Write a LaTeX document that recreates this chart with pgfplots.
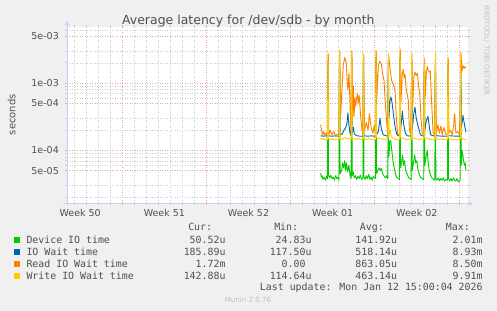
\documentclass[border=0pt]{standalone}
\usepackage{pgfplots}
\pgfplotsset{compat=1.18}
\usepackage{fontspec}
\setmainfont{DejaVu Sans}
\newfontfamily\monofont{DejaVu Sans Mono}
\usetikzlibrary{arrows.meta}
\definecolor{cgreen}{HTML}{00CC00}
\definecolor{cblue}{HTML}{0066B3}
\definecolor{corange}{HTML}{FF8000}
\definecolor{cyellow}{HTML}{FFCC00}
\definecolor{bg}{HTML}{F0F0F0}
\definecolor{gridred}{HTML}{EBA3A3}
\definecolor{gridgray}{HTML}{CCCCCC}
\definecolor{axisblue}{HTML}{C8D0F4}
\definecolor{txt}{HTML}{505050}
\definecolor{lightt}{HTML}{C0C0C0}
\begin{document}
\begin{tikzpicture}
\fill[bg] (0,0) rectangle (497bp,311bp);
\begin{axis}[
  at={(67bp,108bp)}, anchor=south west,
  scale only axis, width=401bp, height=176bp,
  xmin=2.4, xmax=35.76, ymode=log, ymin=1.65e-5, ymax=6.8e-3,
  axis line style={draw=none},
  axis background/.style={fill=white},
  xtick={7,14,21,28,35}, xticklabels={},
  minor xtick={3,4,5,6,8,9,10,11,12,13,15,16,17,18,19,20,22,23,24,25,26,27,29,30,31,32,33,34},
  extra x ticks={3.5,10.5,17.5,24.5,31.5},
  extra x tick labels={Week 50,Week 51,Week 52,Week 01,Week 02},
  extra x tick style={grid=none, major tick length=0pt},
  ytick={5e-5,1e-4,5e-4,1e-3,5e-3},
  yticklabels={5e-05,1e-04,5e-04,1e-03,5e-03},
  minor ytick={2e-5,3e-5,6e-5,7e-5,8e-5,9e-5,2e-4,3e-4,6e-4,7e-4,8e-4,9e-4,2e-3,3e-3,6e-3},
  grid=both,
  major grid style={color=gridred, line width=0.5bp, dash pattern=on 1bp off 1.5bp},
  minor grid style={color=gridgray, line width=0.5bp, dash pattern=on 1bp off 1.5bp},
  tick align=outside, major tick length=2bp, minor tick length=2bp,
  major tick style={color=gridred, line width=0.6bp},
  minor tick style={color=gridgray, line width=0.6bp},
  tick label style={font=\fontsize{9.5bp}{11bp}\selectfont, text=txt},
  yticklabel style={anchor=east, inner sep=0pt, xshift=-6bp},
  xticklabel style={anchor=north, inner sep=0pt, yshift=-6bp},
  every axis plot/.append style={no markers, line width=0.9bp, line join=round},
  clip=true,
]
\addplot[cgreen] coordinates {(23.50,4.6e-5)(23.56,4.0e-5)(23.62,4.2e-5)(23.70,3.7e-5)(23.80,4.0e-5)(23.90,3.6e-5)(24.00,4.1e-5)(24.07,3.8e-5)(24.11,1.8e-3)(24.16,4.2e-5)(24.25,3.9e-5)(24.35,4.3e-5)(24.45,3.8e-5)(24.55,4.0e-5)(24.65,3.6e-5)(24.75,4.2e-5)(24.85,3.8e-5)(24.95,4.0e-5)(25.03,3.6e-5)(25.07,1.9e-3)(25.12,4.5e-5)(25.25,5.0e-5)(25.33,6.5e-5)(25.42,5.5e-5)(25.50,7.0e-5)(25.58,5.0e-5)(25.65,6.5e-5)(25.75,4.8e-5)(25.85,6.0e-5)(25.95,4.2e-5)(26.04,3.8e-5)(26.08,1.8e-3)(26.13,4.2e-5)(26.22,4.8e-5)(26.30,3.9e-5)(26.40,4.2e-5)(26.50,3.7e-5)(26.60,4.1e-5)(26.70,3.8e-5)(26.80,4.3e-5)(26.90,3.7e-5)(27.02,3.9e-5)(27.06,1.7e-3)(27.11,4.0e-5)(27.20,3.7e-5)(27.30,4.2e-5)(27.40,3.8e-5)(27.50,4.4e-5)(27.60,3.7e-5)(27.70,4.0e-5)(27.80,3.6e-5)(27.90,4.1e-5)(28.06,3.8e-5)(28.10,1.9e-3)(28.15,4.5e-5)(28.25,5.0e-5)(28.35,5.5e-5)(28.45,5.0e-5)(28.55,5.4e-5)(28.65,4.5e-5)(28.75,4.2e-5)(28.90,3.9e-5)(29.00,4.2e-5)(29.09,3.8e-5)(29.13,1.7e-3)(29.18,8.0e-5)(29.25,1.3e-4)(29.33,1.4e-4)(29.42,1.0e-4)(29.52,7.0e-5)(29.62,5.5e-5)(29.72,4.5e-5)(29.82,4.0e-5)(29.95,3.8e-5)(30.06,3.7e-5)(30.10,2.0e-3)(30.15,5.5e-5)(30.22,6.5e-5)(30.32,8.5e-5)(30.40,6.0e-5)(30.48,7.0e-5)(30.58,5.0e-5)(30.68,4.5e-5)(30.80,4.0e-5)(30.92,3.8e-5)(31.03,3.7e-5)(31.07,1.7e-3)(31.12,5.0e-5)(31.22,6.5e-5)(31.33,8.5e-5)(31.40,6.5e-5)(31.50,7.0e-5)(31.60,5.0e-5)(31.70,4.5e-5)(31.80,4.0e-5)(31.95,3.8e-5)(32.08,3.7e-5)(32.12,1.6e-3)(32.17,6.0e-5)(32.27,8.0e-5)(32.37,1.0e-4)(32.45,6.5e-5)(32.55,4.8e-5)(32.65,4.3e-5)(32.75,3.9e-5)(32.90,3.7e-5)(33.00,3.6e-5)(33.04,1.7e-3)(33.09,3.8e-5)(33.20,3.6e-5)(33.30,3.9e-5)(33.40,3.5e-5)(33.50,3.8e-5)(33.60,3.6e-5)(33.70,3.9e-5)(33.80,3.5e-5)(33.95,3.7e-5)(34.05,3.6e-5)(34.09,1.6e-3)(34.14,3.8e-5)(34.25,3.5e-5)(34.35,3.8e-5)(34.45,3.5e-5)(34.55,3.9e-5)(34.65,3.6e-5)(34.75,3.5e-5)(34.85,3.8e-5)(34.95,3.4e-5)(35.11,3.6e-5)(35.15,1.8e-3)(35.20,6.0e-5)(35.27,1.0e-4)(35.35,8.0e-5)(35.45,6.0e-5)(35.52,6.5e-5)(35.59,5.05e-5)};
\addplot[cblue] coordinates {(23.50,1.65e-4)(23.75,1.62e-4)(24.00,1.64e-4)(24.07,1.62e-4)(24.11,2.2e-3)(24.16,1.65e-4)(24.40,1.62e-4)(24.70,1.64e-4)(25.03,1.62e-4)(25.07,2.4e-3)(25.12,1.7e-4)(25.30,1.75e-4)(25.45,2.0e-4)(25.60,2.2e-4)(25.70,2.6e-4)(25.77,3.6e-4)(25.85,2.4e-4)(25.95,1.8e-4)(26.04,1.65e-4)(26.08,2.3e-3)(26.13,1.8e-4)(26.22,2.2e-4)(26.30,1.75e-4)(26.50,1.65e-4)(26.80,1.62e-4)(27.02,1.62e-4)(27.06,2.1e-3)(27.11,1.65e-4)(27.40,1.62e-4)(27.70,1.64e-4)(28.06,1.62e-4)(28.10,2.4e-3)(28.15,1.7e-4)(28.30,1.9e-4)(28.44,3.0e-4)(28.55,2.1e-4)(28.70,1.7e-4)(29.09,1.62e-4)(29.13,2.1e-3)(29.18,3.0e-4)(29.27,5.5e-4)(29.35,6.2e-4)(29.45,5.0e-4)(29.55,3.5e-4)(29.70,2.2e-4)(29.85,1.7e-4)(30.06,1.62e-4)(30.10,2.5e-3)(30.15,2.0e-4)(30.30,3.8e-4)(30.40,2.5e-4)(30.55,1.8e-4)(30.70,1.65e-4)(31.03,1.62e-4)(31.07,2.1e-3)(31.12,2.0e-4)(31.25,3.5e-4)(31.35,4.4e-4)(31.45,3.0e-4)(31.63,2.2e-4)(31.80,1.7e-4)(32.08,1.62e-4)(32.12,1.9e-3)(32.17,2.0e-4)(32.30,2.8e-4)(32.43,3.2e-4)(32.55,2.2e-4)(32.65,1.7e-4)(33.00,1.62e-4)(33.04,2.1e-3)(33.09,1.65e-4)(33.50,1.63e-4)(34.05,1.62e-4)(34.09,1.9e-3)(34.14,1.65e-4)(34.60,1.63e-4)(35.11,1.62e-4)(35.15,2.2e-3)(35.22,2.2e-4)(35.34,3.3e-4)(35.45,2.5e-4)(35.59,1.86e-4)};
\addplot[corange] coordinates {(23.50,2.40e-4)(23.58,2.00e-4)(23.66,1.70e-4)(23.75,1.90e-4)(23.85,1.65e-4)(23.95,1.80e-4)(24.07,1.65e-4)(24.14,2.70e-3)(24.18,1.70e-4)(24.30,2.00e-4)(24.45,1.70e-4)(24.60,1.90e-4)(24.75,1.65e-4)(24.90,1.75e-4)(25.03,1.65e-4)(25.10,2.95e-3)(25.16,3.0e-4)(25.27,8.0e-4)(25.38,1.8e-3)(25.50,2.4e-3)(25.63,2.0e-3)(25.72,1.0e-3)(25.77,7.9e-4)(25.86,1.4e-3)(25.95,4.5e-4)(26.02,2.0e-4)(26.11,2.85e-3)(26.16,3.0e-4)(26.22,9.0e-4)(26.28,3.2e-4)(26.35,6.0e-4)(26.41,4.5e-4)(26.55,7.0e-4)(26.63,5.0e-4)(26.71,6.6e-4)(26.83,3.2e-4)(26.94,2.0e-4)(27.02,1.7e-4)(27.09,2.6e-3)(27.15,2.0e-4)(27.30,2.6e-4)(27.45,2.0e-4)(27.55,3.5e-4)(27.70,2.2e-4)(27.85,1.8e-4)(27.97,2.4e-4)(28.06,1.7e-4)(28.13,2.95e-3)(28.18,6.0e-4)(28.30,1.8e-3)(28.40,2.1e-3)(28.55,1.9e-3)(28.65,1.4e-3)(28.77,1.1e-3)(28.90,4.5e-4)(29.00,2.5e-4)(29.09,1.9e-4)(29.16,2.6e-3)(29.22,2.0e-3)(29.30,1.5e-3)(29.40,1.1e-3)(29.50,1.0e-3)(29.60,9.0e-4)(29.70,7.5e-4)(29.80,3.0e-4)(29.90,1.8e-4)(30.06,1.7e-4)(30.13,3.1e-3)(30.18,5.0e-4)(30.28,1.3e-3)(30.37,1.6e-3)(30.45,1.2e-3)(30.52,1.35e-3)(30.62,8.0e-4)(30.72,6.5e-4)(30.80,5.5e-4)(30.88,2.0e-4)(31.00,1.7e-4)(31.10,2.6e-3)(31.15,4.0e-4)(31.25,1.2e-3)(31.35,1.45e-3)(31.45,1.3e-3)(31.55,1.4e-3)(31.65,9.0e-4)(31.75,7.0e-4)(31.85,3.0e-4)(31.95,1.8e-4)(32.07,1.7e-4)(32.15,2.3e-3)(32.20,6.0e-4)(32.30,1.5e-3)(32.37,1.75e-3)(32.45,1.55e-3)(32.55,1.45e-3)(32.63,1.5e-3)(32.70,7.0e-4)(32.85,1.9e-4)(32.98,1.6e-4)(33.07,2.6e-3)(33.12,1.8e-4)(33.25,2.4e-4)(33.38,1.8e-4)(33.50,2.3e-4)(33.62,1.7e-4)(33.75,2.2e-4)(33.90,1.75e-4)(34.05,1.7e-4)(34.12,2.3e-3)(34.17,1.8e-4)(34.30,2.0e-4)(34.45,1.7e-4)(34.55,2.2e-4)(34.65,3.5e-4)(34.75,1.8e-4)(34.90,1.9e-4)(35.05,1.7e-4)(35.18,2.75e-3)(35.25,1.5e-3)(35.35,1.8e-3)(35.45,1.65e-3)(35.52,1.75e-3)(35.59,1.72e-3)};
\addplot[cyellow] coordinates {(23.50,1.52e-4)(23.62,1.45e-4)(23.75,1.50e-4)(23.88,1.42e-4)(24.00,1.48e-4)(24.07,1.45e-4)(24.11,2.90e-3)(24.16,1.48e-4)(24.30,1.44e-4)(24.45,1.50e-4)(24.60,1.42e-4)(24.75,1.47e-4)(24.90,1.43e-4)(25.03,1.46e-4)(25.07,3.10e-3)(25.12,1.50e-4)(25.30,1.45e-4)(25.50,1.55e-4)(25.70,1.48e-4)(25.90,1.50e-4)(26.04,1.46e-4)(26.08,3.00e-3)(26.13,1.52e-4)(26.30,1.48e-4)(26.50,1.45e-4)(26.70,1.50e-4)(26.90,1.44e-4)(27.02,1.46e-4)(27.06,2.75e-3)(27.11,1.48e-4)(27.30,1.45e-4)(27.50,1.50e-4)(27.70,1.43e-4)(27.90,1.47e-4)(28.06,1.45e-4)(28.10,3.10e-3)(28.15,1.55e-4)(28.35,1.50e-4)(28.55,1.48e-4)(28.75,1.45e-4)(28.95,1.47e-4)(29.09,1.45e-4)(29.13,2.75e-3)(29.18,1.60e-4)(29.28,2.00e-4)(29.38,1.60e-4)(29.55,1.50e-4)(29.75,1.46e-4)(29.95,1.44e-4)(30.06,1.45e-4)(30.10,3.30e-3)(30.15,1.55e-4)(30.35,1.50e-4)(30.55,1.47e-4)(30.75,1.45e-4)(30.95,1.48e-4)(31.03,1.45e-4)(31.07,2.75e-3)(31.12,1.55e-4)(31.30,1.50e-4)(31.50,1.48e-4)(31.70,1.45e-4)(31.90,1.47e-4)(32.08,1.45e-4)(32.12,2.40e-3)(32.17,1.52e-4)(32.35,1.50e-4)(32.55,1.46e-4)(32.75,1.45e-4)(32.95,1.43e-4)(33.00,1.45e-4)(33.04,2.75e-3)(33.09,1.50e-4)(33.30,1.45e-4)(33.50,1.48e-4)(33.70,1.44e-4)(33.90,1.46e-4)(34.05,1.45e-4)(34.09,2.40e-3)(34.14,1.50e-4)(34.35,1.46e-4)(34.55,1.44e-4)(34.75,1.47e-4)(34.95,1.43e-4)(35.11,1.45e-4)(35.15,2.90e-3)(35.20,1.55e-4)(35.35,1.48e-4)(35.50,1.45e-4)(35.59,1.43e-4)};
\end{axis}
% axis lines with arrows
\draw[axisblue, line width=0.8bp, -{Stealth[length=5bp,width=5bp]}] (67bp,106bp) -- (67bp,290bp);
\draw[axisblue, line width=0.8bp, -{Stealth[length=5bp,width=5bp]}] (63bp,107.6bp) -- (473bp,107.6bp);
% title and labels
\node[anchor=base, inner sep=0pt, font=\fontsize{12.5bp}{14bp}\selectfont, text=txt] at (248.3bp,286bp) {Average latency for /dev/sdb - by month};
\node[rotate=90, inner sep=0pt, font=\fontsize{10bp}{12bp}\selectfont, text=txt] at (11.7bp,196.3bp) {seconds};
\node[rotate=-90, anchor=west, inner sep=0pt, font=\fontsize{7.2bp}{8bp}\selectfont, text=lightt] at (486.7bp,306bp) {RRDTOOL/ TOBI OETIKER};
% legend
\begin{scope}[every node/.style={inner sep=0pt, font=\monofont\fontsize{9.9bp}{11bp}\selectfont, text=txt}]
\node[anchor=base east] at (212.3bp,80bp) {Cur:};
\node[anchor=base east] at (298.3bp,80bp) {Min:};
\node[anchor=base east] at (384bp,80bp) {Avg:};
\node[anchor=base east] at (470bp,80bp) {Max:};
\fill[cgreen] (14bp,68bp) rectangle (20bp,74bp);
\fill[cblue] (14bp,56.3bp) rectangle (20bp,62.3bp);
\fill[corange] (14bp,44.3bp) rectangle (20bp,50.3bp);
\fill[cyellow] (14bp,32.3bp) rectangle (20bp,38.3bp);
\node[anchor=base west] at (26.3bp,67.7bp) {Device IO time};
\node[anchor=base west] at (26.3bp,55.7bp) {IO Wait time};
\node[anchor=base west] at (26.3bp,43.7bp) {Read IO Wait time};
\node[anchor=base west] at (26.3bp,31.7bp) {Write IO Wait time};
\node[anchor=base east] at (225.7bp,67.7bp) {50.52u};
\node[anchor=base east] at (311.7bp,67.7bp) {24.83u};
\node[anchor=base east] at (397.3bp,67.7bp) {141.92u};
\node[anchor=base east] at (482.7bp,67.7bp) {2.01m};
\node[anchor=base east] at (225.7bp,55.7bp) {185.89u};
\node[anchor=base east] at (311.7bp,55.7bp) {117.50u};
\node[anchor=base east] at (397.3bp,55.7bp) {518.14u};
\node[anchor=base east] at (482.7bp,55.7bp) {8.93m};
\node[anchor=base east] at (225.7bp,43.7bp) {1.72m};
\node[anchor=base east] at (305.7bp,43.7bp) {0.00};
\node[anchor=base east] at (397.3bp,43.7bp) {863.05u};
\node[anchor=base east] at (482.7bp,43.7bp) {8.50m};
\node[anchor=base east] at (225.7bp,31.7bp) {142.88u};
\node[anchor=base east] at (311.7bp,31.7bp) {114.64u};
\node[anchor=base east] at (397.3bp,31.7bp) {463.14u};
\node[anchor=base east] at (482.7bp,31.7bp) {9.91m};
\node[anchor=base east] at (482.7bp,20.3bp) {Last update: Mon Jan 12 15:00:04 2026};
\end{scope}
\node[anchor=base, inner sep=0pt, font=\fontsize{7.1bp}{8bp}\selectfont, text=lightt] at (248bp,8.3bp) {Munin 2.0.76};
\pgfresetboundingbox
\useasboundingbox (0,0) rectangle (497bp,311bp);
\end{tikzpicture}
\end{document}
